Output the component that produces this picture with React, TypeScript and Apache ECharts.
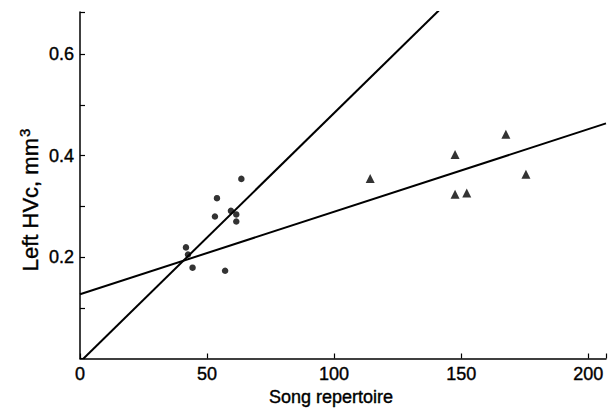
import React, { useEffect, useRef } from "react";
import * as echarts from "echarts";

const xTicks = [0, 50, 100, 150, 200];
const yTicks = [0.2, 0.4, 0.6];

// Circles (smaller-repertoire group)
const circleX = [41.7, 42.5, 44.3, 53.9, 53.1, 59.4, 61.5, 61.5, 63.5, 57.1];
const circleY = [0.219, 0.205, 0.179, 0.316, 0.28, 0.291, 0.284, 0.27, 0.354, 0.173];

// Triangles (larger-repertoire group)
const triX = [114.2, 147.6, 147.6, 152.2, 167.6, 175.5];
const triY = [0.355, 0.402, 0.324, 0.326, 0.442, 0.363];

// Regression lines (endpoints)
const steepLineX = [1.4, 141.2];
const steepLineY = [0, 0.686];
const shallowLineX = [0, 207];
const shallowLineY = [0.1265, 0.4634];

const FONT = "'Liberation Sans', Arial, Helvetica, sans-serif";
const TXT = { color: "#000", fontFamily: FONT, fontSize: 18, textBorderColor: "#000", textBorderWidth: 0.4 };

export default function App() {
  const ref = useRef<HTMLDivElement>(null);
  useEffect(() => {
    if (!ref.current) return;
    const chart = echarts.init(ref.current, null, { renderer: "svg" });
    const zip = (xs: number[], ys: number[]) => xs.map((x, i) => [x, ys[i]]);
    chart.setOption({
      animation: false,
      backgroundColor: "#fff",
      grid: { left: 80, right: 0, top: 12, bottom: 51.5, containLabel: false },
      xAxis: {
        type: "value",
        min: 0,
        max: 207,
        interval: 50,
        axisLine: { show: true, onZero: false, lineStyle: { color: "#000", width: 1.5 } },
        axisTick: { show: true, inside: true, length: 5, lineStyle: { color: "#000", width: 1.2 } },
        axisLabel: {
          ...TXT,
          margin: 6,
          formatter: (v: number) => (xTicks.includes(Math.round(v)) && Math.abs(v - Math.round(v)) < 1e-6 ? String(v) : ""),
        },
        splitLine: { show: false },
      },
      yAxis: {
        type: "value",
        min: 0,
        max: 0.683,
        interval: 0.2,
        axisLine: { show: true, onZero: false, lineStyle: { color: "#000", width: 1.5 } },
        axisTick: { show: true, inside: true, length: 5, lineStyle: { color: "#000", width: 1.2 } },
        minorTick: { show: true, splitNumber: 2, length: 5, lineStyle: { color: "#000", width: 1.2 } },
        axisLabel: {
          ...TXT,
          margin: 6,
          formatter: (v: number) => {
            const t = yTicks.find((k) => Math.abs(k - v) < 1e-6);
            return t !== undefined ? t.toFixed(1) : "";
          },
        },
        splitLine: { show: false },
      },
      graphic: [
        {
          type: "text",
          x: 30,
          y: 200,
          rotation: Math.PI / 2,
          style: {
            text: "Left HVc, mm{sup|3}",
            fontFamily: FONT,
            fontSize: 22,
            fill: "#000",
            stroke: "#000",
            lineWidth: 0.4,
            align: "center",
            verticalAlign: "middle",
            rich: {
              sup: { fontFamily: FONT, fontSize: 15, verticalAlign: "bottom", padding: [0, 0, 12, 1], fill: "#000" },
            },
          },
        },
        {
          type: "text",
          x: 331,
          y: 397,
          style: {
            text: "Song repertoire",
            fontFamily: FONT,
            fontSize: 18,
            fill: "#000",
            stroke: "#000",
            lineWidth: 0.4,
            align: "center",
            verticalAlign: "middle",
          },
        },
      ],
      series: [
        {
          type: "line",
          data: zip(steepLineX, steepLineY),
          symbol: "none",
          clip: true,
          lineStyle: { color: "#000", width: 2 },
        },
        {
          type: "line",
          data: zip(shallowLineX, shallowLineY),
          symbol: "none",
          clip: true,
          lineStyle: { color: "#000", width: 2 },
        },
        {
          type: "scatter",
          data: zip(circleX, circleY),
          symbol: "circle",
          symbolSize: 6.5,
          itemStyle: { color: "#000" },
        },
        {
          type: "scatter",
          data: zip(triX, triY),
          symbol: "triangle",
          symbolSize: 9,
          itemStyle: { color: "#000" },
        },
      ],
    });
    return () => chart.dispose();
  }, []);
  return <div ref={ref} style={{ width: 609, height: 410, position: "absolute", left: 0, top: 0 }} />;
}
